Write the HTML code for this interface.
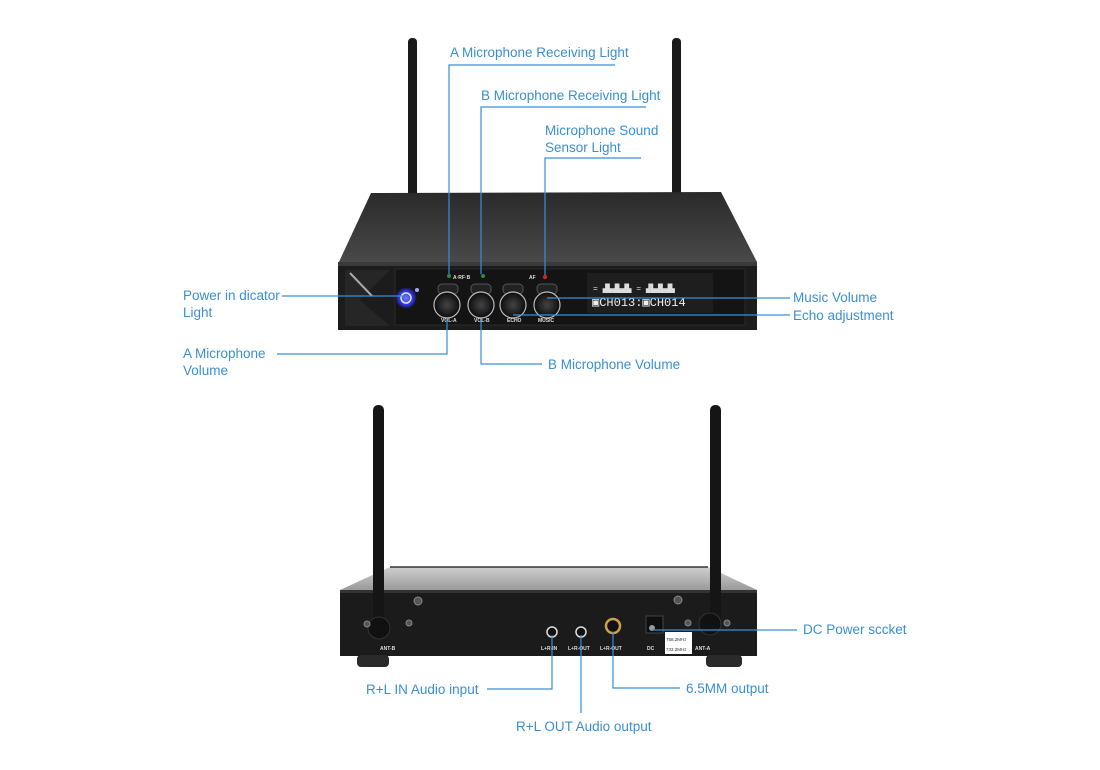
<!DOCTYPE html>
<html><head><meta charset="utf-8"><style>
html,body{margin:0;padding:0;background:#fff;}
svg{display:block;}
text{font-family:"Liberation Sans",sans-serif;font-size:13.5px;fill:#3a8fd2;}
.s{font-size:5px;fill:#ddd;font-weight:bold;}
</style></head><body>
<svg width="1100" height="770" viewBox="0 0 1100 770" xmlns="http://www.w3.org/2000/svg">
<defs>
<linearGradient id="top" x1="0" y1="0" x2="0" y2="1"><stop offset="0" stop-color="#2a2a2a"/><stop offset="1" stop-color="#4a4a4a"/></linearGradient>
<linearGradient id="top2" x1="0" y1="0" x2="0" y2="1"><stop offset="0" stop-color="#cfcfcf"/><stop offset="1" stop-color="#9a9a9a"/></linearGradient>
<radialGradient id="knob"><stop offset="0" stop-color="#444"/><stop offset="1" stop-color="#0c0c0c"/></radialGradient>
<radialGradient id="pw"><stop offset="0" stop-color="#6f7bff"/><stop offset="0.7" stop-color="#2a2fc9"/><stop offset="1" stop-color="#111"/></radialGradient>
</defs>

<!-- FRONT UNIT antennas -->
<rect x="408" y="38" width="9" height="160" rx="4" fill="#1a1a1a"/>
<rect x="672" y="38" width="9" height="160" rx="4" fill="#1a1a1a"/>
<!-- top surface -->
<polygon points="371,193 721,192 757,262 338,264" fill="url(#top)"/>
<!-- front face -->
<rect x="338" y="262" width="419" height="68" fill="#1c1c1c"/>
<rect x="338" y="262" width="419" height="4" fill="#3a3a3a"/>
<polygon points="345,270 390,270 360,300 390,326 345,326" fill="#262626"/>
<line x1="350" y1="273" x2="372" y2="296" stroke="#aaa" stroke-width="2"/>
<rect x="395" y="269" width="350" height="56" fill="#141414" stroke="#2a2a2a"/>
<!-- power -->
<circle cx="406" cy="298" r="11" fill="url(#pw)"/>
<circle cx="406" cy="298" r="5" fill="none" stroke="#dfe3ff" stroke-width="1.5"/>
<circle cx="417" cy="290" r="2" fill="#9af"/>
<!-- small knobs + LEDs -->
<circle cx="449" cy="276" r="2" fill="#2c8a3c"/>
<circle cx="483" cy="276" r="2" fill="#2c8a3c"/>
<circle cx="545" cy="277" r="2.2" fill="#d02020"/>
<text x="453" y="279" class="s">A·RF·B</text>
<text x="529" y="279" class="s">AF</text>
<g fill="#222" stroke="#555" stroke-width="1">
<rect x="438" y="284" width="20" height="10" rx="4"/>
<rect x="471" y="284" width="20" height="10" rx="4"/>
<rect x="503" y="284" width="20" height="10" rx="4"/>
<rect x="537" y="284" width="20" height="10" rx="4"/>
</g>
<!-- big knobs -->
<g stroke="#bbb" stroke-width="1.2">
<circle cx="447" cy="305" r="13" fill="url(#knob)"/>
<circle cx="481" cy="305" r="13" fill="url(#knob)"/>
<circle cx="513" cy="305" r="13" fill="url(#knob)"/>
<circle cx="547" cy="305" r="13" fill="url(#knob)"/>
</g>
<text x="441" y="322" class="s">VOL-A</text>
<text x="474" y="322" class="s">VOL-B</text>
<text x="507" y="322" class="s">ECHO</text>
<text x="538" y="322" class="s">MUSIC</text>
<!-- display -->
<rect x="587" y="273" width="126" height="40" fill="#1e1e1e"/>
<text x="593" y="291" style="font-size:8px;fill:#ddd;font-family:'Liberation Mono',monospace">= ▟▙▟▙▟▙ = ▟▙▟▙▟▙</text>
<text x="592" y="306" style="font-size:12px;fill:#eee;font-family:'Liberation Mono',monospace">▣CH013:▣CH014</text>

<!-- BACK UNIT -->
<polygon points="390,567 708,567 757,590 340,590" fill="url(#top2)"/>
<line x1="390" y1="567" x2="708" y2="567" stroke="#333" stroke-width="1.5"/>
<rect x="340" y="590" width="417" height="66" fill="#1b1b1b"/>
<rect x="340" y="590" width="417" height="3" fill="#333"/>
<rect x="357" y="655" width="32" height="12" rx="4" fill="#2a2a2a"/>
<rect x="706" y="655" width="36" height="12" rx="4" fill="#2a2a2a"/>
<!-- antennas back -->
<rect x="373" y="405" width="11" height="225" rx="5" fill="#151515"/>
<rect x="710" y="405" width="11" height="225" rx="5" fill="#151515"/>
<circle cx="379" cy="628" r="11" fill="#111" stroke="#333"/>
<circle cx="710" cy="624" r="11" fill="#111" stroke="#333"/>
<g fill="#555" stroke="#888"><circle cx="367" cy="624" r="3"/><circle cx="409" cy="623" r="3"/><circle cx="418" cy="601" r="4"/><circle cx="678" cy="600" r="4"/><circle cx="688" cy="623" r="3"/><circle cx="727" cy="623" r="3"/></g>
<text x="380" y="650" class="s">ANT-B</text>
<text x="695" y="650" class="s">ANT-A</text>
<!-- jacks -->
<circle cx="552" cy="632" r="5" fill="#111" stroke="#ddd" stroke-width="1.5"/>
<circle cx="581" cy="632" r="5" fill="#111" stroke="#ddd" stroke-width="1.5"/>
<circle cx="613" cy="626" r="7" fill="#111" stroke="#c9a24a" stroke-width="2.5"/>
<rect x="646" y="616" width="17" height="17" fill="#0e0e0e" stroke="#444"/>
<circle cx="652" cy="628" r="3" fill="#999"/>
<rect x="665" y="632" width="27" height="22" fill="#fff"/>
<text x="666" y="641" style="font-size:4.5px;fill:#333">758.2MHz</text>
<text x="666" y="651" style="font-size:4.5px;fill:#333">733.2MHz</text>
<text x="541" y="650" class="s">L+R-IN</text>
<text x="568" y="650" class="s">L+R-OUT</text>
<text x="600" y="650" class="s">L+R-OUT</text>
<text x="647" y="650" class="s">DC</text>

<!-- callout lines -->
<g stroke="#3a8fd2" stroke-width="1.2" fill="none">
<polyline points="615,65 449,65 449,274"/>
<polyline points="646,107 481,107 481,274"/>
<polyline points="641,158 545,158 545,275"/>
<line x1="282" y1="296" x2="404" y2="296"/>
<line x1="547" y1="298" x2="790" y2="298"/>
<line x1="513" y1="315" x2="790" y2="315"/>
<polyline points="277,354 447,354 447,318"/>
<polyline points="542,364 481,364 481,318"/>
<line x1="652" y1="630" x2="797" y2="630"/>
<polyline points="487,689 552,689 552,635"/>
<line x1="581" y1="635" x2="581" y2="713"/>
<polyline points="613,632 613,688 680,688"/>
</g>

<!-- labels -->
<text x="450" y="57">A Microphone Receiving Light</text>
<text x="481" y="100">B Microphone Receiving Light</text>
<text x="545" y="135">Microphone Sound</text>
<text x="545" y="152">Sensor Light</text>
<text x="183" y="300">Power in dicator</text>
<text x="183" y="317">Light</text>
<text x="793" y="302">Music Volume</text>
<text x="793" y="320">Echo adjustment</text>
<text x="183" y="358">A Microphone</text>
<text x="183" y="375">Volume</text>
<text x="548" y="369">B Microphone Volume</text>
<text x="803" y="634">DC Power sccket</text>
<text x="366" y="694">R+L IN Audio input</text>
<text x="686" y="693">6.5MM output</text>
<text x="516" y="731">R+L OUT Audio output</text>
</svg>
</body></html>
